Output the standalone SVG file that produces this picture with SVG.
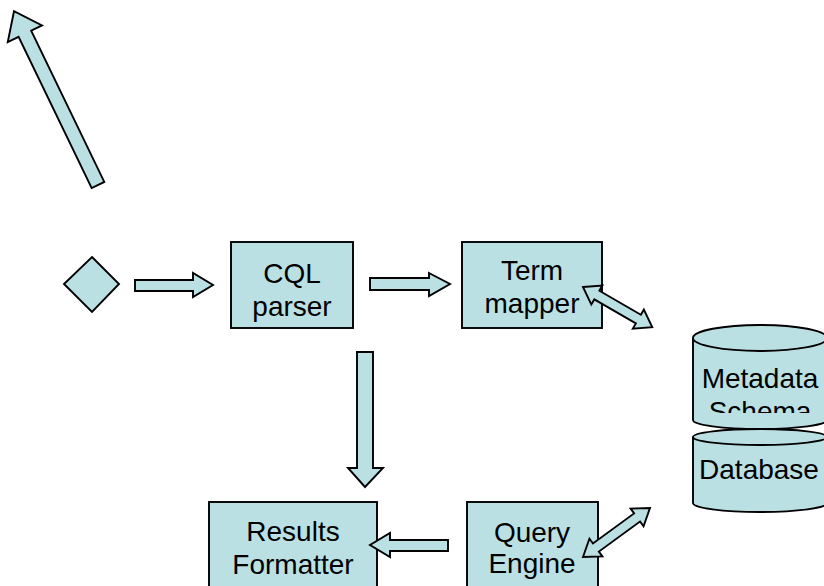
<svg xmlns="http://www.w3.org/2000/svg" width="824" height="586" viewBox="0 0 824 586">
<style>
.s{fill:#BBE0E3;stroke:#000;stroke-width:1.9;stroke-linejoin:miter}
.t{font-family:"Liberation Sans",Arial,sans-serif;font-size:28px;fill:#000;text-anchor:middle}
</style>
<defs>
<clipPath id="clipTop"><rect x="690" y="330" width="140" height="83"/></clipPath>
</defs>
<rect width="824" height="586" fill="#fff"/>
<g id="start">
<polygon class="s" points="92,257 119,284 92,312 64,284"/>
</g>
<g id="cql">
<rect class="s" x="231" y="242" width="122" height="86"/>
<text class="t" x="292" y="283">CQL</text>
<text class="t" x="292" y="316">parser</text>
</g>
<g id="term">
<rect class="s" x="462" y="242" width="140" height="86"/>
<text class="t" x="532" y="280">Term</text>
<text class="t" x="532" y="313">mapper</text>
</g>
<g id="results">
<rect class="s" x="209" y="502" width="168" height="100"/>
<text class="t" x="293" y="541">Results</text>
<text class="t" x="293" y="574">Formatter</text>
</g>
<g id="query">
<rect class="s" x="467" y="502" width="131" height="100"/>
<text class="t" x="532" y="542">Query</text>
<text class="t" x="532" y="573">Engine</text>
</g>
<g id="database">
<path class="s" d="M693,437 A67,8 0 0 1 827,437 L827,503 A67,9 0 0 1 693,503 Z"/>
<path class="s" d="M693,437 A67,8 0 0 0 827,437"/>
<text class="t" x="759" y="479">Database</text>
</g>
<g id="metadata">
<path class="s" d="M693,338 A67,13 0 0 1 827,338 L827,420 A67,9 0 0 1 693,420 Z"/>
<path class="s" d="M693,338 A67,13 0 0 0 827,338"/>
<g clip-path="url(#clipTop)">
<text class="t" x="760" y="388">Metadata</text>
<text class="t" x="760" y="421">Schema</text>
</g>
</g>
<g id="connectors">
<polygon class="s" transform="translate(98,185) rotate(-115.8)" points="0,-7 168,-7 168,-19 193,0 168,19 168,7 0,7"/>
<polygon class="s" points="135,280 193,280 193,273 213,285 193,297 193,291 135,291"/>
<polygon class="s" points="370,278 429,278 429,273 450,284 429,296 429,290 370,290"/>
<polygon class="s" points="357,352 373,352 373,468 383,468 365,487 348,468 357,468"/>
<polygon class="s" points="448,540 390,540 390,533 370,545 390,557 390,551 448,551"/>
<polygon class="s" transform="translate(583,287) rotate(30.1)" points="0,0 16,-11 16,-5 64,-5 64,-11 80,0 64,11 64,5 16,5 16,11"/>
<polygon class="s" transform="translate(583,557) rotate(-36.2)" points="0,0 16,-11 16,-5 67,-5 67,-11 83,0 67,11 67,5 16,5 16,11"/>
</g>
</svg>
